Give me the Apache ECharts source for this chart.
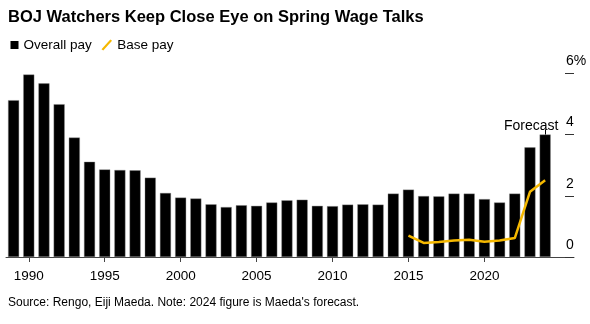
<!DOCTYPE html>
<html>
<head>
<meta charset="utf-8">
<script src="https://cdn.jsdelivr.net/npm/echarts@6/dist/echarts.min.js"></script>
<style>
html,body{margin:0;padding:0;background:#fff;}
#chart{width:590px;height:324px;}
</style>
</head>
<body>
<div id="chart"></div>
<script>
const years = [1989,1990,1991,1992,1993,1994,1995,1996,1997,1998,1999,2000,2001,2002,2003,2004,2005,2006,2007,2008,2009,2010,2011,2012,2013,2014,2015,2016,2017,2018,2019,2020,2021,2022,2023,2024];
const overallPay = [5.12,5.96,5.67,4.99,3.90,3.11,2.86,2.84,2.83,2.59,2.09,1.94,1.91,1.72,1.63,1.69,1.67,1.78,1.85,1.87,1.67,1.66,1.71,1.72,1.71,2.07,2.20,1.99,1.98,2.07,2.07,1.89,1.78,2.07,3.58,4.00];
const baseYears = [2015,2016,2017,2018,2019,2020,2021,2022,2023,2024];
const basePay = [0.70,0.46,0.49,0.54,0.56,0.50,0.54,0.62,2.13,2.51];
const xTicks = [1990,1995,2000,2005,2010,2015,2020];
const yTicks = [0,2,4,6];
const yTickLabels = ['0','2','4','6%'];
const titleText = 'BOJ Watchers Keep Close Eye on Spring Wage Talks';
const sourceText = "Source: Rengo, Eiji Maeda. Note: 2024 figure is Maeda's forecast.";
const forecastText = 'Forecast';

const font = "'Liberation Sans', Arial, sans-serif";
const chart = echarts.init(document.getElementById('chart'), null, {renderer: 'canvas'});

const barData = years.map((y, i) => {
  const item = {value: [y, overallPay[i]]};
  if (i === years.length - 1) {
    item.label = {
      show: true, position: 'top', formatter: forecastText,
      color: '#000', fontSize: 14, fontFamily: font, offset: [-14, 0], distance: 1
    };
  }
  return item;
});
const lastYear = years[years.length - 1];
const lastVal = overallPay[overallPay.length - 1];

chart.setOption({
  animation: false,
  textStyle: {fontFamily: font},
  title: [
    {text: titleText, left: 8, top: 9, padding: 0, textStyle: {fontSize: 16.5, fontWeight: 'bold', color: '#000', fontFamily: font}},
    {text: sourceText, left: 8, top: 296.5, padding: 0, textStyle: {fontSize: 12, fontWeight: 'normal', color: '#000', fontFamily: font}}
  ],
  legend: [
    {data: [{name: 'Overall pay', icon: 'rect'}], left: 10.5, top: 38, padding: 0, itemWidth: 8, itemHeight: 8,
     itemStyle: {borderWidth: 0, color: '#000'},
     textStyle: {fontSize: 13.5, color: '#000', fontFamily: font}, selectedMode: false},
    {data: [{name: 'Base pay', icon: 'path://M0,11 L10,0 L12,1.5 L2,12.5 Z'}], left: 101.5, top: 38, padding: 0, itemWidth: 11, itemHeight: 11,
     itemStyle: {borderWidth: 0},
     textStyle: {fontSize: 13.5, color: '#000', fontFamily: font}, selectedMode: false}
  ],
  grid: {left: 6, right: 16, top: 73.3, bottom: 67, containLabel: false},
  xAxis: {
    type: 'value', min: 1988.5, max: 2025.9,
    splitLine: {show: false},
    axisLine: {show: true, lineStyle: {color: '#444', width: 1}},
    axisTick: {show: true, customValues: xTicks, length: 5, lineStyle: {color: '#444'}},
    axisLabel: {customValues: xTicks, margin: 12, fontSize: 13.5, color: '#000', fontFamily: font, formatter: v => String(v)}
  },
  yAxis: {
    type: 'value', min: 0, max: 6, position: 'right',
    splitLine: {show: false},
    axisLine: {show: false},
    axisTick: {show: true, inside: true, length: 9, customValues: yTicks, lineStyle: {color: '#333'}},
    axisLabel: {
      customValues: yTicks, inside: false, margin: -8, align: 'left', verticalAlign: 'bottom',
      padding: [0, 0, 5, 0], fontSize: 14, color: '#000', fontFamily: font,
      formatter: v => yTickLabels[yTicks.indexOf(v)]
    }
  },
  series: [
    {
      name: 'Overall pay', type: 'bar', barWidth: 11, data: barData,
      itemStyle: {color: '#000', borderColor: '#888', borderWidth: 0.4},
      markLine: {
        silent: true, symbol: 'none', label: {show: false},
        lineStyle: {color: '#000', width: 1, type: 'solid'},
        data: [[{coord: [lastYear, lastVal]}, {coord: [lastYear, lastVal + 0.17]}]]
      },
      z: 2
    },
    {
      name: 'Base pay', type: 'line', data: baseYears.map((y, i) => [y, basePay[i]]),
      showSymbol: false, symbol: 'none',
      lineStyle: {color: '#f5b800', width: 2.5}, itemStyle: {color: '#f5b800'},
      z: 3
    }
  ]
});
</script>
</body>
</html>
